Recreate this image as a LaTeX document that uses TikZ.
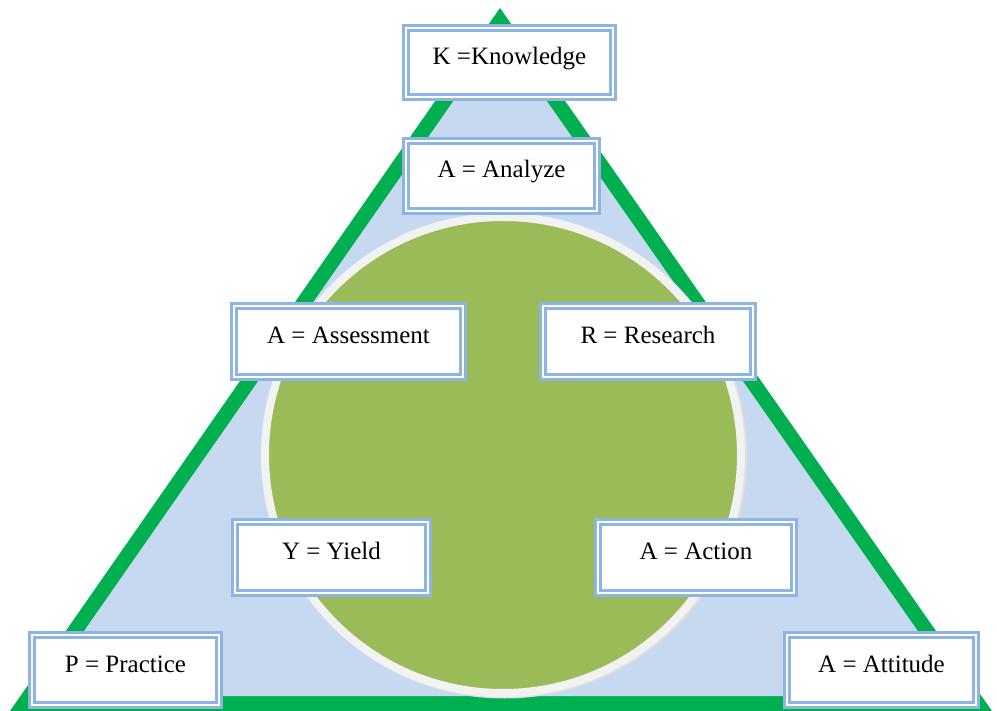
\documentclass[tikz,border=0pt]{standalone}
\usepackage{fontspec}
\setmainfont{Liberation Serif}
\definecolor{trigreen}{HTML}{00B050}
\definecolor{triblue}{HTML}{C6D9F1}
\definecolor{circgreen}{HTML}{9BBB59}
\definecolor{ringgray}{HTML}{F2F2F2}
\definecolor{boxblue}{HTML}{8EB4E3}
\tikzset{
  lbox/.style={draw=boxblue, double=white, line width=2.8pt, double distance=2pt,
    fill=white, inner sep=0pt, text height=10pt, text depth=6pt,
    font=\fontsize{25}{30}\selectfont, rectangle},
}
\begin{document}
\begin{tikzpicture}[x=1pt,y=-1pt]
\useasboundingbox (0,0) rectangle (997,711);
\fill[white] (0,0) rectangle (997,711);
% triangle
\fill[trigreen] (500,8) -- (992,711) -- (10,711) -- cycle;
\fill[triblue] (500,34.2) -- (963.3,696) -- (38.8,696) -- cycle;
% circle
\fill[black!12] (504.5,456) circle (242.5);
\draw[ringgray, line width=8pt, fill=circgreen] (503,455) circle (238);
% boxes
\node[lbox, minimum width=207.4, minimum height=69.4] (k) at (509.5,62.5) {K =Knowledge};
\node[lbox, minimum width=191.4, minimum height=70.4] (an) at (501.5,176) {A = Analyze};
\node[lbox, minimum width=229.4, minimum height=71.4] (as) at (348.5,341.5) {A = Assessment};
\node[lbox, minimum width=210.4, minimum height=71.4] (r) at (648,341.5) {R = Research};
\node[lbox, minimum width=193.4, minimum height=71.4] (y) at (331.5,557.5) {Y = Yield};
\node[lbox, minimum width=196.4, minimum height=71.4] (ac) at (696,557.5) {A = Action};
\node[lbox, minimum width=187.4, minimum height=70.4] (p) at (125.5,670) {P = Practice};
\node[lbox, minimum width=189.4, minimum height=70.4] (at) at (881.5,670) {A = Attitude};
\end{tikzpicture}
\end{document}
